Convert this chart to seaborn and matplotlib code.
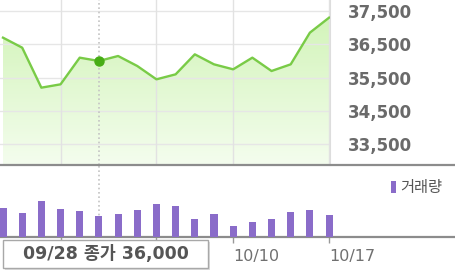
import matplotlib
matplotlib.use("Agg")
import matplotlib.pyplot as plt
import matplotlib.colors as mcolors
from matplotlib.patches import Rectangle
import numpy as np
import pandas as pd
import seaborn as sns

# ---- data ----
dates = ["09/21", "09/22", "09/23", "09/26", "09/27", "09/28", "09/29", "09/30",
         "10/04", "10/05", "10/06", "10/07", "10/10", "10/11", "10/12", "10/13",
         "10/14", "10/17"]
close = [36700, 36400, 35200, 35300, 36100, 36000, 36150, 35850, 35450, 35600,
         36200, 35900, 35750, 36100, 35700, 35900, 36850, 37300]
volume = [290000, 240000, 360000, 280000, 260000, 210000, 230000, 270000, 330000,
          310000, 180000, 230000, 110000, 150000, 180000, 250000, 270000, 220000]
price_ticks = [33500, 34500, 35500, 36500, 37500]
week_ticks = ["09/26", "10/04", "10/10", "10/17"]
shown_ticks = ["10/10", "10/17"]
sel_date = "09/28"
sel_label = "09/28 종가 36,000"
legend_label = "거래량"

idx = list(range(len(dates)))
df = pd.DataFrame({"i": idx, "date": dates, "close": close, "volume": volume})
week_pos = [dates.index(d) for d in week_ticks]
sel_pos = dates.index(sel_date)

W, H = 455, 272
fig = plt.figure(figsize=(W / 100, H / 100), dpi=100)

u = 19.18           # px per trading day
x0 = -3 / u
axp = fig.add_axes([0, (H - 165) / H, 330 / W, 165 / H])
axv = fig.add_axes([0, (H - 237) / H, 1, 72 / H])

# ---- price panel ----
ylo, yhi = 32880, 37830
axp.set_xlim(x0, x0 + 330 / u)
axp.set_ylim(ylo, yhi)

cmap = mcolors.LinearSegmentedColormap.from_list("g", ["#f4fdee", "#cff3b4"])
grad = np.linspace(0, 1, 256).reshape(-1, 1)
im = axp.imshow(grad, cmap=cmap, aspect="auto", origin="lower",
                extent=[x0, x0 + 330 / u, ylo, yhi], zorder=1)
poly = axp.fill_between(df["i"], df["close"], ylo, color="none", lw=0)
clip = poly.get_paths()[0]
im.set_clip_path(clip, transform=axp.transData)

for t in price_ticks:
    axp.axhline(t, color="#e6e6e6", lw=1, zorder=2)
for p in week_pos:
    axp.axvline(p, color="#e2e2e2", lw=1, zorder=2)

sns.lineplot(data=df, x="i", y="close", ax=axp, color="#79cb47", lw=1.7,
             zorder=4)
axp.plot([sel_pos], [close[sel_pos]], "o", color="#47ad15", ms=6.5, zorder=5)
axp.axvline(sel_pos, color="#c4c4c4", lw=1.2, ls=(0, (1, 1.6)), zorder=3)

axp.set_xlabel("")
axp.set_ylabel("")
axp.set_xticks([])
axp.yaxis.tick_right()
axp.set_yticks(price_ticks)
axp.set_yticklabels([f"{t:,}" for t in price_ticks], fontsize=12,
                    fontweight="bold", color="#6a6a6a")
axp.tick_params(axis="y", length=0, pad=13)
for s in ["top", "left", "bottom"]:
    axp.spines[s].set_visible(False)
axp.spines["right"].set_color("#dddddd")
axp.set_facecolor("none")

# ---- volume panel ----
sns.barplot(data=df, x="i", y="volume", ax=axv, native_scale=True,
            color="#8a6cc9", width=0.37, saturation=1, label=legend_label,
            zorder=3)
axv.set_xlim(x0, x0 + W / u)
axv.set_ylim(0, 720000)
axv.axvline(sel_pos, color="#c4c4c4", lw=1.2, ls=(0, (1, 1.6)), zorder=2)
axv.set_xlabel("")
axv.set_ylabel("")
axv.set_yticks([])
axv.set_xticks(week_pos)
axv.set_xticklabels(week_ticks, fontsize=11.5, color="#707070", ha="left")
for lab in axv.get_xticklabels():
    lab.set_visible(lab.get_text() in shown_ticks)
axv.tick_params(axis="x", length=4, width=1, color="#999999", pad=5)
for s in ["left", "right"]:
    axv.spines[s].set_visible(False)
axv.spines["top"].set_color("#8c8c8c")
axv.spines["top"].set_linewidth(1.6)
axv.spines["bottom"].set_color("#8c8c8c")
axv.spines["bottom"].set_linewidth(1.6)
axv.set_facecolor("none")
leg = axv.legend(loc="upper right", bbox_to_anchor=(1.003, 0.99), frameon=False,
                 handlelength=0.33, handleheight=0.8, handletextpad=0.3,
                 prop={"family": ["Noto Sans CJK KR", "DejaVu Sans"], "size": 11})
for t in leg.get_texts():
    t.set_color("#555555")

# ---- selected-date box ----
bx0, bx1, by0, by1 = 3, 208, 240, 268
fig.patches.append(Rectangle((bx0 / W + 1.5 / W, (H - by1 - 1.5) / H),
                             (bx1 - bx0) / W, (by1 - by0) / H,
                             transform=fig.transFigure, facecolor="#dddddd",
                             edgecolor="none", zorder=10))
fig.patches.append(Rectangle((bx0 / W, (H - by1) / H), (bx1 - bx0) / W,
                             (by1 - by0) / H, transform=fig.transFigure,
                             facecolor="white", edgecolor="#a8a8a8", lw=1,
                             zorder=11))
fig.text((bx0 + bx1) / 2 / W, (H - (by0 + by1) / 2) / H, sel_label,
         ha="center", va="center", fontsize=12.5, fontweight="bold",
         color="#555555", family=["DejaVu Sans", "Noto Sans CJK KR"], zorder=12)

fig.savefig("out.png", dpi=100)
